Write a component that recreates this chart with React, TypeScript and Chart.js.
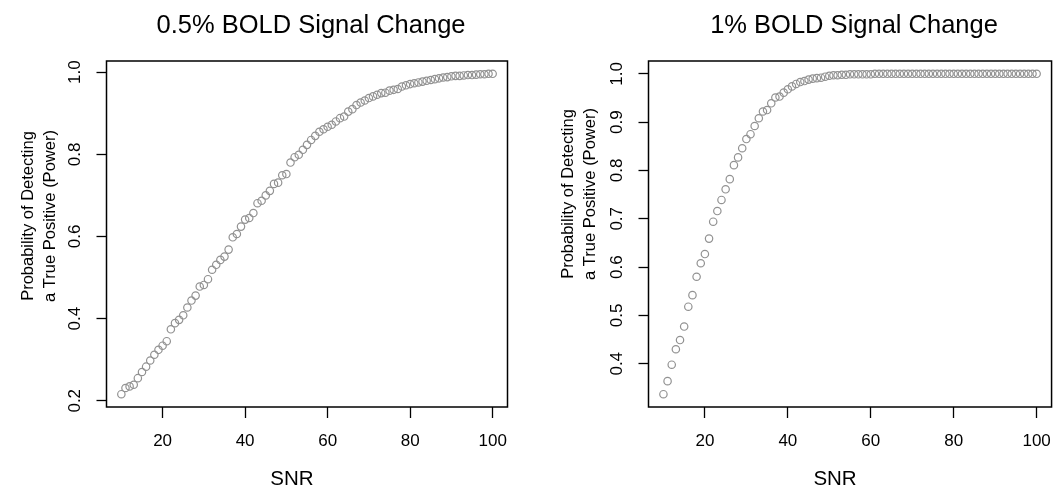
import { useEffect, useRef } from 'react';
import { Chart, registerables } from 'chart.js';

Chart.register(...registerables);

const snr = [
  10, 11, 12, 13, 14, 15, 16, 17, 18, 19,
  20, 21, 22, 23, 24, 25, 26, 27, 28, 29,
  30, 31, 32, 33, 34, 35, 36, 37, 38, 39,
  40, 41, 42, 43, 44, 45, 46, 47, 48, 49,
  50, 51, 52, 53, 54, 55, 56, 57, 58, 59,
  60, 61, 62, 63, 64, 65, 66, 67, 68, 69,
  70, 71, 72, 73, 74, 75, 76, 77, 78, 79,
  80, 81, 82, 83, 84, 85, 86, 87, 88, 89,
  90, 91, 92, 93, 94, 95, 96, 97, 98, 99,
  100,
];

const powerHalfPercent = [
  0.216, 0.231, 0.235, 0.239, 0.255, 0.270, 0.283, 0.298, 0.312, 0.324,
  0.334, 0.345, 0.374, 0.389, 0.397, 0.408, 0.427, 0.444, 0.456, 0.478,
  0.482, 0.496, 0.519, 0.531, 0.543, 0.551, 0.568, 0.598, 0.606, 0.624,
  0.641, 0.645, 0.657, 0.681, 0.687, 0.700, 0.711, 0.728, 0.731, 0.749,
  0.752, 0.780, 0.793, 0.799, 0.811, 0.823, 0.835, 0.845, 0.855, 0.861,
  0.867, 0.872, 0.880, 0.888, 0.892, 0.904, 0.910, 0.920, 0.926, 0.931,
  0.937, 0.941, 0.945, 0.949, 0.950, 0.955, 0.957, 0.959, 0.965, 0.968,
  0.971, 0.973, 0.975, 0.977, 0.979, 0.981, 0.983, 0.985, 0.987, 0.988,
  0.990, 0.991, 0.991, 0.992, 0.993, 0.993, 0.994, 0.995, 0.995, 0.996,
  0.996,
];

const powerOnePercent = [
  0.337, 0.364, 0.398, 0.430, 0.449, 0.477, 0.518, 0.542, 0.580, 0.608,
  0.627, 0.659, 0.694, 0.716, 0.739, 0.761, 0.782, 0.811, 0.827, 0.846,
  0.865, 0.875, 0.892, 0.908, 0.922, 0.925, 0.939, 0.951, 0.953, 0.961,
  0.968, 0.974, 0.979, 0.983, 0.985, 0.988, 0.990, 0.991, 0.992, 0.994,
  0.996, 0.997, 0.997, 0.998, 0.998, 0.999, 0.999, 0.999, 0.999, 0.999,
  0.999, 1.000, 1.000, 1.000, 1.000, 1.000, 1.000, 1.000, 1.000, 1.000,
  1.000, 1.000, 1.000, 1.000, 1.000, 1.000, 1.000, 1.000, 1.000, 1.000,
  1.000, 1.000, 1.000, 1.000, 1.000, 1.000, 1.000, 1.000, 1.000, 1.000,
  1.000, 1.000, 1.000, 1.000, 1.000, 1.000, 1.000, 1.000, 1.000, 1.000,
  1.000,
];

const xTickValues = [20, 40, 60, 80, 100];
const yTicksLeft = [0.2, 0.4, 0.6, 0.8, 1.0];
const yTicksRight = [0.4, 0.5, 0.6, 0.7, 0.8, 0.9, 1.0];

const titleLeft = '0.5% BOLD Signal Change';
const titleRight = '1% BOLD Signal Change';
const xTitle = 'SNR';
const yTitle = ['Probability of Detecting', 'a True Positive (Power)'];

const FONT = "'Liberation Sans', Arial, Helvetica, sans-serif";

const framePlugin = {
  id: 'rframe',
  afterDraw(chart: any) {
    const { ctx, chartArea } = chart;
    const { left, top, right, bottom } = chartArea;
    ctx.save();
    ctx.strokeStyle = '#000';
    ctx.lineWidth = 1.5;
    ctx.strokeRect(left, top, right - left, bottom - top);
    ctx.restore();
  },
};

// R-style main title and axis labels drawn as real text
const labelPlugin = {
  id: 'rlabels',
  afterDraw(chart: any, _args: any, opts: any) {
    const { ctx, chartArea } = chart;
    const mid = (chartArea.left + chartArea.right) / 2;
    ctx.save();
    ctx.fillStyle = '#000';
    ctx.textAlign = 'center';
    ctx.textBaseline = 'middle';
    // main title
    ctx.font = `${opts.titleSize}px ${FONT}`;
    ctx.fillText(opts.title, mid + opts.titleShift, opts.titleY);
    // y label (two rotated lines)
    ctx.font = `${opts.ySize}px ${FONT}`;
    (opts.yLines as string[]).forEach((line, i) => {
      ctx.save();
      ctx.translate(opts.yX + i * opts.yGap, opts.yCenter);
      ctx.rotate(-Math.PI / 2);
      ctx.fillText(line, 0, 0);
      ctx.restore();
    });
    // x label
    ctx.font = `${opts.xSize}px ${FONT}`;
    ctx.fillText(opts.xText, mid + opts.xShift, opts.xY);
    ctx.restore();
  },
};

function rRange(vals: number[]) {
  const mn = Math.min(...vals);
  const mx = Math.max(...vals);
  const pad = (mx - mn) * 0.04;
  return [mn - pad, mx + pad];
}

function makeConfig(
  title: string,
  values: number[],
  yTicks: number[],
  yAxisWidth: number,
  padRight: number,
  yTitleCenter: number
): any {
  const xr = rRange(snr);
  const yr = rRange(values);
  return {
    type: 'scatter',
    data: {
      datasets: [
        {
          data: snr.map((x, i) => ({ x, y: values[i] })),
          pointStyle: 'circle',
          pointRadius: 3.7,
          pointHoverRadius: 3.7,
          pointBorderWidth: 1.2,
          pointBorderColor: '#929292',
          pointBackgroundColor: 'rgba(0,0,0,0)',
          showLine: false,
        },
      ],
    },
    options: {
      responsive: false,
      animation: false,
      events: [],
      layout: { padding: { left: 0, right: padRight, top: 61, bottom: 0 } },
      plugins: {
        legend: { display: false },
        tooltip: { enabled: false },
        title: { display: false },
        rlabels: {
          title,
          titleSize: 25.5,
          titleShift: 4,
          titleY: 26,
          yLines: yTitle,
          ySize: 16.5,
          yX: 28.5,
          yGap: 21.6,
          yCenter: yTitleCenter,
          xText: xTitle,
          xSize: 20.5,
          xShift: -15,
          xY: 479,
        },
      },
      scales: {
        x: {
          type: 'linear',
          position: 'bottom',
          min: xr[0],
          max: xr[1],
          afterBuildTicks: (scale: any) => {
            scale.ticks = xTickValues.map((v) => ({ value: v }));
          },
          afterFit: (scale: any) => {
            scale.height = 81;
          },
          border: { display: false },
          grid: {
            display: true,
            drawOnChartArea: false,
            drawTicks: true,
            tickLength: 11,
            tickColor: '#000',
            tickWidth: 1.3,
          },
          ticks: {
            autoSkip: false,
            maxRotation: 0,
            minRotation: 0,
            padding: 13,
            color: '#000',
            font: { family: FONT, size: 17, lineHeight: 1.2 },
            callback: (v: any) => String(v),
          },
          title: { display: false },
        },
        y: {
          type: 'linear',
          position: 'left',
          min: yr[0],
          max: yr[1],
          afterBuildTicks: (scale: any) => {
            scale.ticks = yTicks.map((v) => ({ value: v }));
          },
          afterFit: (scale: any) => {
            scale.width = yAxisWidth;
          },
          border: { display: false },
          grid: {
            display: true,
            drawOnChartArea: false,
            drawTicks: true,
            tickLength: 10,
            tickColor: '#000',
            tickWidth: 1.3,
          },
          ticks: {
            autoSkip: false,
            minRotation: 90,
            maxRotation: 90,
            crossAlign: 'center',
            padding: 9,
            color: '#000',
            font: { family: FONT, size: 17, lineHeight: 1.2 },
            callback: (v: any) => Number(v).toFixed(1),
          },
          title: { display: false },
        },
      },
    },
    plugins: [framePlugin, labelPlugin],
  };
}

function Panel(props: {
  left: number;
  width: number;
  title: string;
  values: number[];
  yTicks: number[];
  yAxisWidth: number;
  padRight: number;
  yTitleCenter: number;
}) {
  const ref = useRef<HTMLCanvasElement | null>(null);
  useEffect(() => {
    if (!ref.current) return;
    const chart = new Chart(
      ref.current,
      makeConfig(
        props.title,
        props.values,
        props.yTicks,
        props.yAxisWidth,
        props.padRight,
        props.yTitleCenter
      )
    );
    return () => chart.destroy();
  }, []);
  return (
    <canvas
      ref={ref}
      width={props.width}
      height={488}
      style={{
        position: 'absolute',
        left: props.left,
        top: 0,
        width: props.width,
        height: 488,
        display: 'block',
      }}
    />
  );
}

export default function App() {
  return (
    <div
      style={{
        position: 'fixed',
        left: 0,
        top: 0,
        width: 1064,
        height: 488,
        background: '#fff',
        overflow: 'hidden',
      }}
    >
      <Panel
        left={0}
        width={540}
        title={titleLeft}
        values={powerHalfPercent}
        yTicks={yTicksLeft}
        yAxisWidth={106.5}
        padRight={32.5}
        yTitleCenter={216}
      />
      <Panel
        left={540}
        width={524}
        title={titleRight}
        values={powerOnePercent}
        yTicks={yTicksRight}
        yAxisWidth={108.5}
        padRight={3.5}
        yTitleCenter={194}
      />
    </div>
  );
}
